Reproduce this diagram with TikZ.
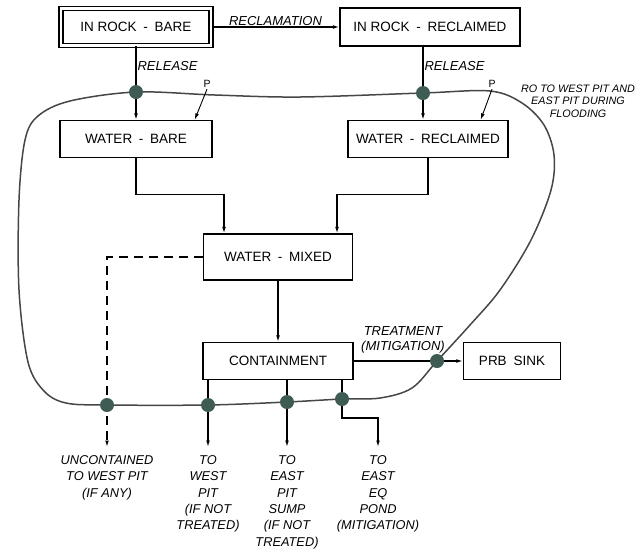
\documentclass[tikz,border=0pt]{standalone}
\usepackage{fontspec}
\setmainfont{Liberation Sans}
\usetikzlibrary{arrows.meta, positioning, calc}
\definecolor{DotGreen}{RGB}{62,92,84}
\definecolor{LoopGray}{RGB}{70,70,70}
\newcommand{\dsh}{\hspace{0.5em}-\hspace{0.5em}}

\begin{document}
\begin{tikzpicture}[x=1pt, y=-1pt, >={Latex[length=6.5pt,width=3.8pt]}, line width=1.2pt,
    box/.style={draw, line width=1.3pt, minimum height=37pt, inner sep=2pt, font=\fontsize{13.5}{15}\selectfont},
    lbl/.style={font=\fontsize{13}{15}\selectfont\itshape, inner sep=1pt},
    outlbl/.style={font=\fontsize{12.8}{16.3}\selectfont\itshape, align=center, inner sep=0pt},
    boundary/.style={LoopGray, line width=1.5pt}]
    \useasboundingbox (0,0) rectangle (637,550);

    % Boxes
    \node[box, double, double distance=2.5pt, minimum width=150pt] (rockbare) at (136,27) {IN ROCK\dsh BARE};
    \node[box, minimum width=180pt, minimum height=38pt] (rockrec) at (430,27) {IN ROCK\dsh RECLAIMED};
    \node[box, minimum width=152pt] (wbare) at (136,139) {WATER\dsh BARE};
    \node[box, minimum width=160pt] (wrec) at (428,139) {WATER\dsh RECLAIMED};
    \node[box, minimum width=149pt, minimum height=46pt] (wmix) at (278,257) {WATER\dsh MIXED};
    \node[box, minimum width=150pt] (cont) at (278,361) {CONTAINMENT};
    \node[box, minimum width=97pt] (prb) at (512,361) {PRB\hspace{0.5em}SINK};

    % Crossing points and loose ends
    \coordinate (d1) at (136,92);
    \coordinate (d2) at (423,93);
    \coordinate (d3) at (437,361);
    \coordinate (d4) at (107,405);
    \coordinate (d5) at (208,405);
    \coordinate (d6) at (287,402);
    \coordinate (d7) at (342,399);
    \coordinate (bend) at (342,418);
    \coordinate (o1) at (107,447);
    \coordinate (o2) at (208,447);
    \coordinate (o3) at (287,447);
    \coordinate (o4) at (378,447);

    % Boundary
    \draw[boundary] plot[smooth cycle, tension=0.55] coordinates {
        (136,92) (215,95) (300,97) (423,93) (490,91) (522,103) (544,125) (554,155)
        (551,190) (531,240) (500,290) (470,325) (437,361) (412,388) (380,398)
        (342,399) (287,402) (208,405) (107,405) (66,403) (44,391) (28,362)
        (19,290) (19,200) (25,140) (38,116) (70,101)};

    % Flows
    \draw[->] (rockbare.east) -- (rockrec.west) node[midway, above, lbl] (recl) {RECLAMATION};
    \draw[->] (rockbare.south) -- (wbare.north) node[pos=0.27, right, lbl] (relbare) {RELEASE};
    \draw[->] (d2 |- rockrec.south) -- (d2 |- wrec.north) node[pos=0.27, right, lbl] (relrec) {RELEASE};

    \node[font=\fontsize{10.5}{11}\selectfont, inner sep=1pt] (pbare) at (207,84) {P};
    \node[font=\fontsize{10.5}{11}\selectfont, inner sep=1pt] (prec) at (492,84) {P};
    \draw[->, line width=0.9pt] (pbare.south) -- ([xshift=-18pt]wbare.north east);
    \draw[->, line width=0.9pt] (prec.south) -- ([xshift=-28pt]wrec.north east);

    \draw[->] (wbare.south) -- ++(0,36) -| ([xshift=-54pt]wmix.north);
    \draw[->] (wrec.south) -- ++(0,36) -| ([xshift=59pt]wmix.north);
    \draw[->, dash pattern=on 9pt off 6pt] (wmix.west) -| (d4) -- (o1);
    \draw[->] (wmix.south) -- (cont.north);

    \draw[->] (cont.east) -- (prb.west);
    \node[lbl, align=center, anchor=south] (treat) at (403,355) {TREATMENT\\(MITIGATION)};

    \draw[->] (d5 |- cont.south) -- (o2);
    \draw[->] (d6 |- cont.south) -- (o3);
    \draw[->] (d7 |- cont.south) -- (bend) -| (o4);

    % Crossing dots
    \foreach \d in {d1,d2,d3,d4,d5,d6,d7}
        \fill[DotGreen] (\d) circle (7pt);

    % Texts
    \node[font=\fontsize{10.8}{12.5}\selectfont\itshape, align=center, inner sep=0pt] (flood) at (578,101) {RO TO WEST PIT AND\\EAST PIT DURING\\FLOODING};
    \node[outlbl, below=8pt of o1] (uncont) {UNCONTAINED\\TO WEST PIT\\(IF ANY)};
    \node[outlbl, below=8pt of o2] (west) {TO\\WEST\\PIT\\(IF NOT\\TREATED)};
    \node[outlbl, below=8pt of o3] (east) {TO\\EAST\\PIT\\SUMP\\(IF NOT\\TREATED)};
    \node[outlbl, below=8pt of o4] (pond) {TO\\EAST\\EQ\\POND\\(MITIGATION)};
\end{tikzpicture}
\end{document}
